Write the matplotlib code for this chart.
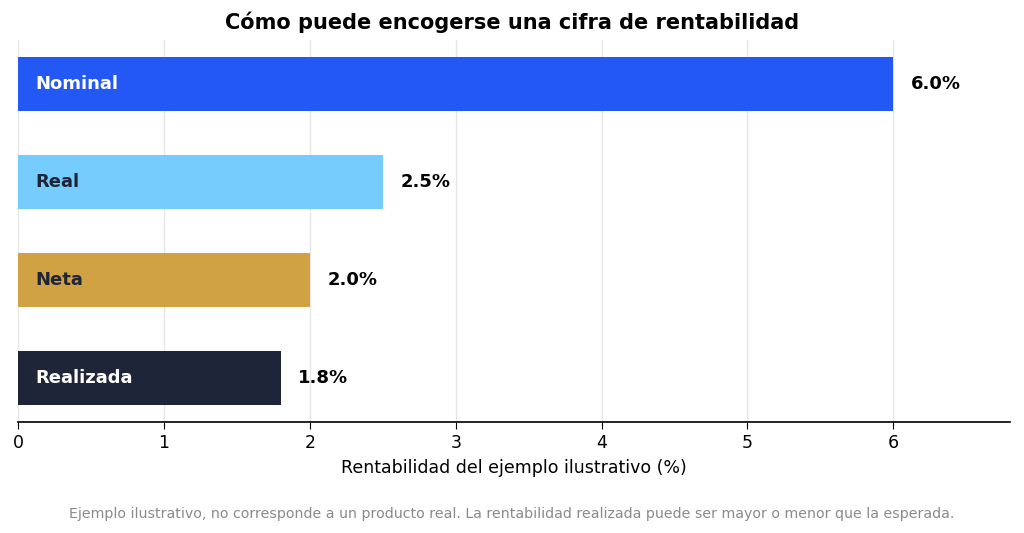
import matplotlib
matplotlib.use("Agg")
import matplotlib.pyplot as plt

categories = ["Nominal", "Real", "Neta", "Realizada"]
values = [6.0, 2.5, 2.0, 1.8]
bar_colors = ["#2458F5", "#76CDFD", "#D1A243", "#1F2538"]
text_colors = ["white", "#1F2538", "#1F2538", "white"]

fig = plt.figure(figsize=(10.24, 5.33), dpi=100)
ax = fig.add_axes([0.0176, 0.208, 0.9688, 0.717])

y = list(range(len(categories)))
ax.barh(y, values, height=0.55, color=bar_colors, zorder=2)

for i, (cat, v) in enumerate(zip(categories, values)):
    ax.text(0.12, i, cat, va="center", ha="left", fontsize=13,
            fontweight="bold", color=text_colors[i], zorder=3)
    ax.text(v + 0.12, i, f"{v:.1f}%", va="center", ha="left", fontsize=13,
            fontweight="bold", color="black", zorder=3)

ax.set_xlim(0, 6.8)
ax.set_ylim(3.45, -0.45)
ax.set_xticks(range(7))
ax.set_yticks([])
ax.tick_params(axis="x", labelsize=12.5, length=5)
ax.grid(axis="x", color="#e6e6e6", linewidth=1, zorder=0)
ax.set_axisbelow(True)
for s in ["top", "right", "left"]:
    ax.spines[s].set_visible(False)
ax.spines["bottom"].set_linewidth(1.2)

ax.set_xlabel("Rentabilidad del ejemplo ilustrativo (%)", fontsize=12.5, labelpad=5)
fig.suptitle("Cómo puede encogerse una cifra de rentabilidad", fontsize=15,
             fontweight="bold", y=0.978)
fig.text(0.5, 0.028, "Ejemplo ilustrativo, no corresponde a un producto real. "
         "La rentabilidad realizada puede ser mayor o menor que la esperada.",
         ha="center", fontsize=10.15, color="#8a8a8a")

fig.savefig("out.png", dpi=100)
